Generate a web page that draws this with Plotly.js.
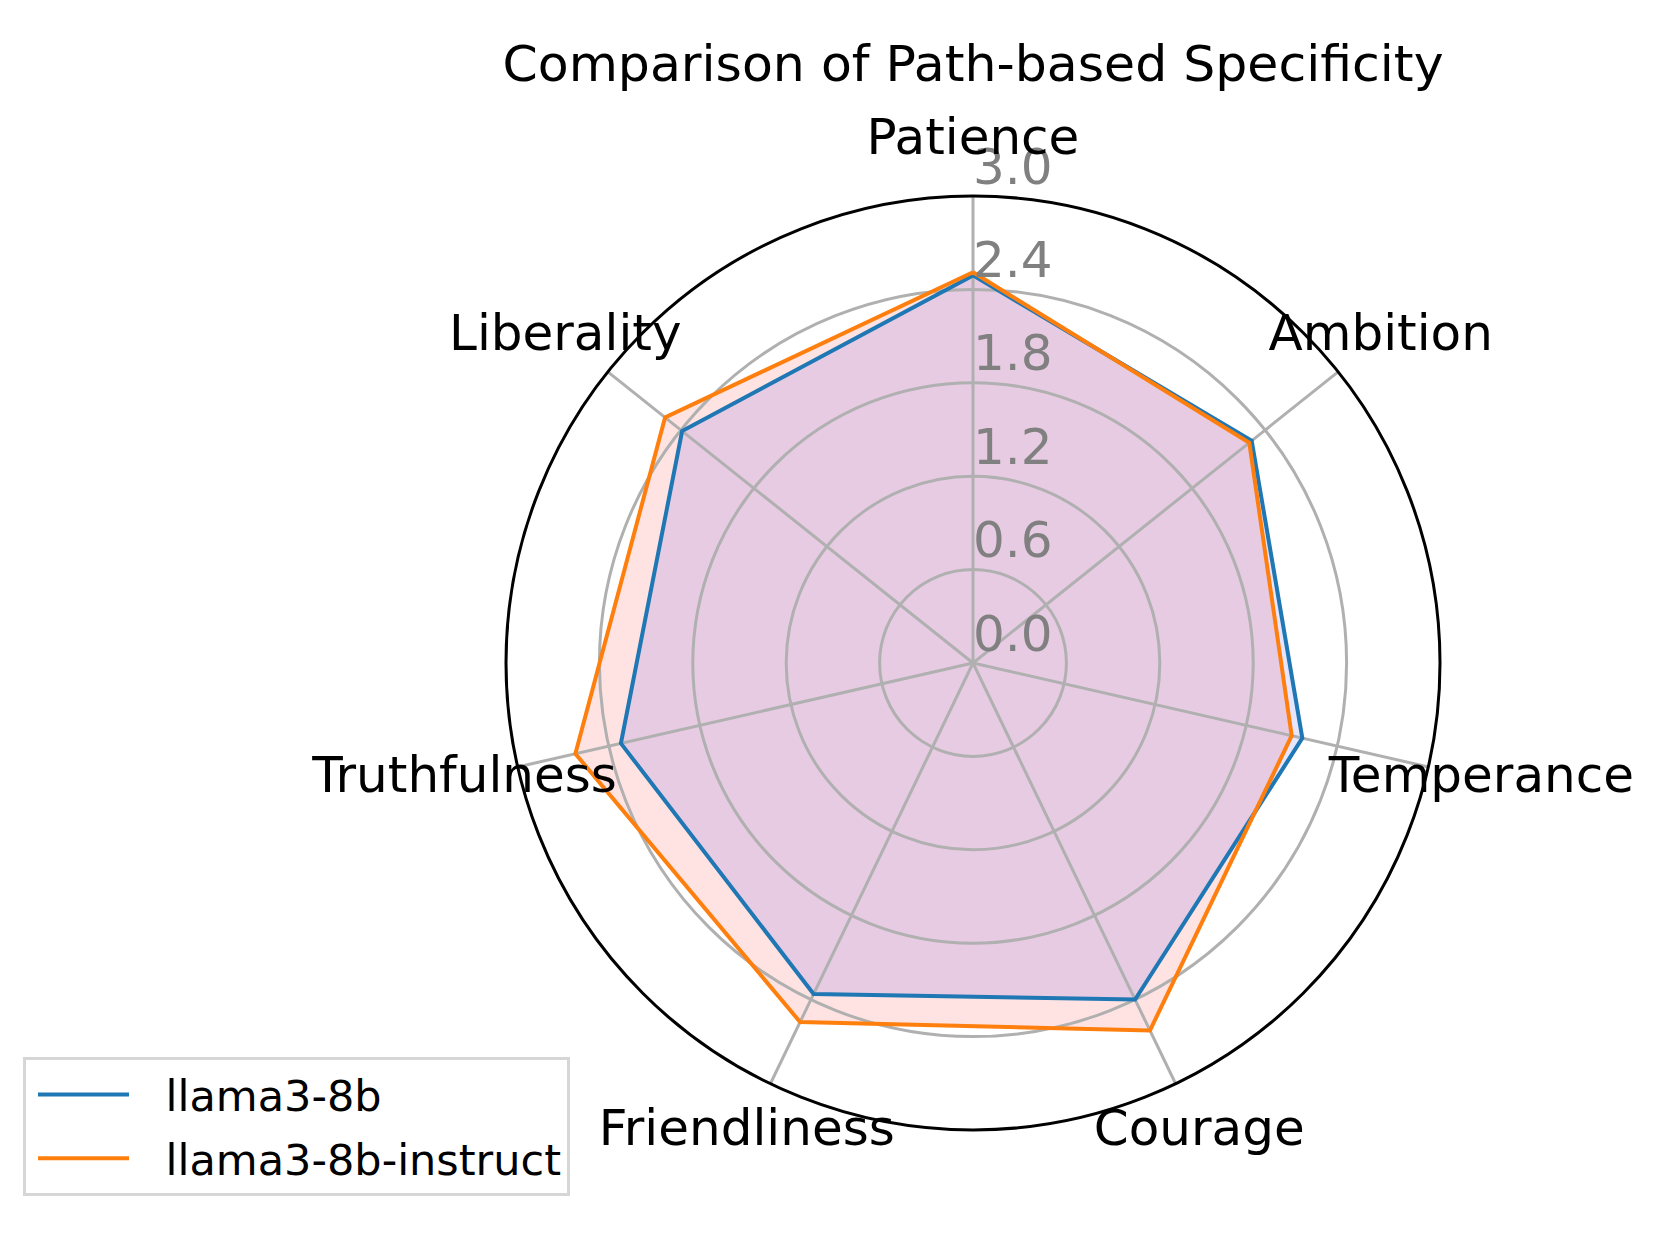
<!DOCTYPE html>
<html>
<head>
<meta charset="utf-8">
<script src="https://cdn.plot.ly/plotly-3.0.1.min.js"></script>
<style>html,body{margin:0;padding:0;background:#fff;}#chart{width:1660px;height:1245px;}</style>
</head>
<body>
<div id="chart"></div>
<script>
// ---- data ----
const categories = ["Patience", "Ambition", "Temperance", "Courage", "Friendliness", "Truthfulness", "Liberality"];
const llama3_8b = [2.49, 2.29, 2.17, 2.40, 2.36, 2.32, 2.39];
const llama3_8b_instruct = [2.51, 2.27, 2.10, 2.62, 2.56, 2.62, 2.53];
const seriesNames = ["llama3-8b", "llama3-8b-instruct"];
const radialTicks = [0.0, 0.6, 1.2, 1.8, 2.4, 3.0];
const radialTickLabels = ["0.0", "0.6", "1.2", "1.8", "2.4", "3.0"];
const titleText = "Comparison of Path-based Specificity";

// ---- styling ----
const FONT = "DejaVu Sans, sans-serif";
const BLUE = "#1f77b4", ORANGE = "#ff7f0e";
const RMAX = 3.0;      // outer circle of the grid
const RMAX3 = 3.4;     // label overlay reaches a little further, for the category labels
const LABEL_R = 3.35;
const LEGEND_PAD = "\u00a0\u00a0\u200a";

function closed(a) { return a.concat([a[0]]); }
const thetaClosed = closed(categories);

const traces = [
  // fills (below the grid, like matplotlib)
  { type: "scatterpolar", subplot: "polar", r: closed(llama3_8b), theta: thetaClosed, mode: "lines",
    fill: "toself", fillcolor: "rgba(0,0,255,0.1)", line: { width: 0, color: "rgba(0,0,0,0)" },
    showlegend: false, hoverinfo: "skip" },
  { type: "scatterpolar", subplot: "polar", r: closed(llama3_8b_instruct), theta: thetaClosed, mode: "lines",
    fill: "toself", fillcolor: "rgba(255,0,0,0.11)", line: { width: 0, color: "rgba(0,0,0,0)" },
    showlegend: false, hoverinfo: "skip" },
  // outlines (above the grid)
  { type: "scatterpolar", subplot: "polar2", r: closed(llama3_8b), theta: thetaClosed, mode: "lines",
    name: LEGEND_PAD + seriesNames[0], legendgroup: "a", line: { color: BLUE, width: 4 } },
  { type: "scatterpolar", subplot: "polar2", r: closed(llama3_8b_instruct), theta: thetaClosed, mode: "lines",
    name: LEGEND_PAD + seriesNames[1], legendgroup: "b", line: { color: ORANGE, width: 4 } },
  // radial tick labels along the Patience spoke
  { type: "scatterpolar", subplot: "polar2", r: radialTicks, theta: radialTicks.map(() => categories[0]),
    mode: "text", text: radialTickLabels, textposition: "top right",
    textfont: { family: FONT, size: 50, color: "#808080" },
    showlegend: false, hoverinfo: "skip", cliponaxis: false },
  // category labels
  { type: "scatterpolar", subplot: "polar3", r: categories.map(() => LABEL_R), theta: categories,
    mode: "text", text: categories, textposition: "middle center",
    textfont: { family: FONT, size: 50, color: "#000" },
    showlegend: false, hoverinfo: "skip", cliponaxis: false }
];

const W = 1660, H = 1245;
const cx = 973, cy = 663, R = 467;
const R3 = R * RMAX3 / RMAX;
function dom(rad) {
  return { x: [(cx - rad) / W, (cx + rad) / W], y: [(H - cy - rad) / H, (H - cy + rad) / H] };
}
const angBase = { direction: "clockwise", rotation: 90, type: "category", categoryarray: categories };
const hiddenRadial = (mx) => ({ range: [0, mx], visible: false, showgrid: false, showline: false, showticklabels: false, ticks: "" });
const hiddenAngular = () => Object.assign({}, angBase, { showticklabels: false, ticks: "", showline: false, showgrid: false });

const layout = {
  width: W, height: H,
  margin: { l: 0, r: 0, t: 0, b: 0 },
  paper_bgcolor: "#fff",
  font: { family: FONT, size: 43, color: "#000" },
  title: { text: titleText, font: { family: FONT, size: 50.5, color: "#000" },
    x: cx / W, xanchor: "center", xref: "paper", y: 1 - 63 / H, yanchor: "middle", yref: "container" },
  polar: {
    domain: dom(R), bgcolor: "rgba(0,0,0,0)",
    radialaxis: hiddenRadial(RMAX), angularaxis: hiddenAngular()
  },
  polar2: {
    domain: dom(R), bgcolor: "rgba(0,0,0,0)",
    radialaxis: {
      range: [0, RMAX], tickvals: radialTicks, showticklabels: false, ticks: "",
      showline: false, showgrid: true, gridcolor: "#b0b0b0", gridwidth: 3
    },
    angularaxis: Object.assign({}, angBase, {
      showticklabels: false, ticks: "", showline: true, linecolor: "#000", linewidth: 3,
      showgrid: true, gridcolor: "#b0b0b0", gridwidth: 3
    })
  },
  polar3: {
    domain: dom(R3), bgcolor: "rgba(0,0,0,0)",
    radialaxis: hiddenRadial(RMAX3), angularaxis: hiddenAngular()
  },
  legend: {
    x: 23 / W, y: 1 - 1057 / H, xanchor: "left", yanchor: "top",
    bgcolor: "#fff", bordercolor: "#d6d6d6", borderwidth: 3, indentation: 7,
    font: { family: FONT, size: 43, color: "#000" }, tracegroupgap: 5, itemwidth: 91
  },
  showlegend: true
};

Plotly.newPlot("chart", traces, layout, { staticPlot: true, displayModeBar: false });
</script>
</body>
</html>
